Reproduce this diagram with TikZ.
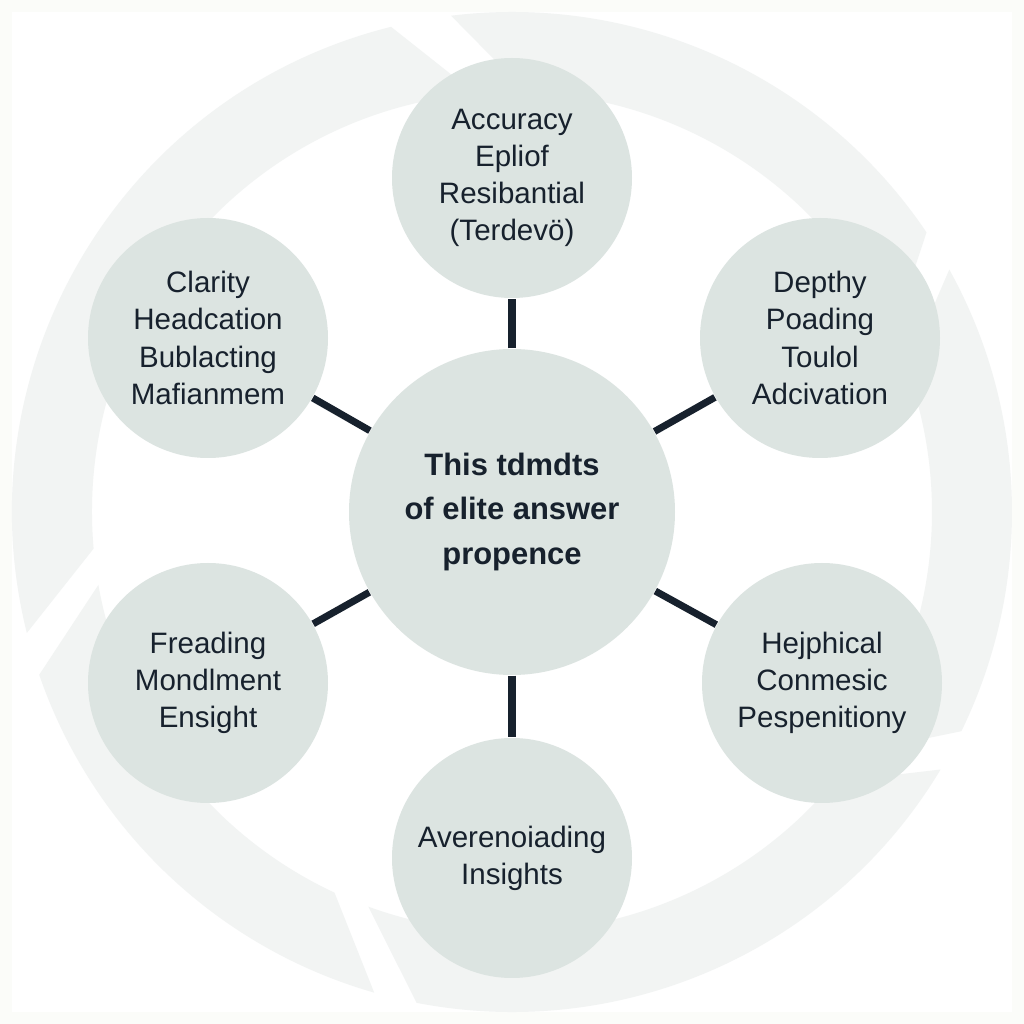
\documentclass[tikz,border=0pt]{standalone}
\usepackage{fontspec}
\setmainfont{Liberation Sans}
\usetikzlibrary{calc}
\definecolor{Ink}{HTML}{17212D}
\definecolor{Disc}{HTML}{DCE4E1}
\definecolor{Paper}{HTML}{FBFCF9}
\definecolor{Swirl}{HTML}{F2F4F3}

\begin{document}
\begin{tikzpicture}[font=\fontsize{8.4}{10.6}\selectfont,
    sat/.style={circle,fill=Disc,minimum size=2.4cm,inner sep=0pt,align=center,text=Ink},
    hubdisc/.style={circle,fill=Disc,minimum size=3.26cm,inner sep=0pt,align=center,text=Ink,
      font=\fontsize{8.8}{12.7}\selectfont\bfseries},
    link/.style={Ink,line width=2pt}]
  \useasboundingbox (0,0) rectangle (10.24,10.24);
  \fill[Paper] (0,0) rectangle (10.24,10.24);
  \fill[white] (0.12,0.12) rectangle (10.12,10.12);
  % faint swirl ring behind
  \foreach \a/\b in {95/185,190/245,250/320,-35/20,25/88}{
    \fill[Swirl] ($(5.12,5.12)+(\a:4.2)$) arc[start angle=\a,end angle=\b,radius=4.2]
      -- ($(5.12,5.12)+(\b+9:5)$) arc[start angle=\b+9,end angle=\a+9,radius=5] -- cycle;}
  \node[hubdisc] (hub) at (5.12,5.12) {This tdmdts\\of elite answer\\propence};
  \foreach \x/\y/\name/\txt in {5.12/8.46/acc/{Accuracy\\Epliof\\Resibantial\\(Terdevö)},
      2.08/6.86/clar/{Clarity\\Headcation\\Bublacting\\Mafianmem},
      8.20/6.86/depth/{Depthy\\Poading\\Toulol\\Adcivation},
      2.08/3.41/fread/{Freading\\Mondlment\\Ensight},
      8.22/3.41/hej/{Hejphical\\Conmesic\\Pespenitiony},
      5.12/1.66/aver/{Averenoiading\\Insights}}{
    \node[sat] (\name) at (\x,\y) {\txt};
    \draw[link] (hub) -- (\name);}
\end{tikzpicture}
\end{document}
